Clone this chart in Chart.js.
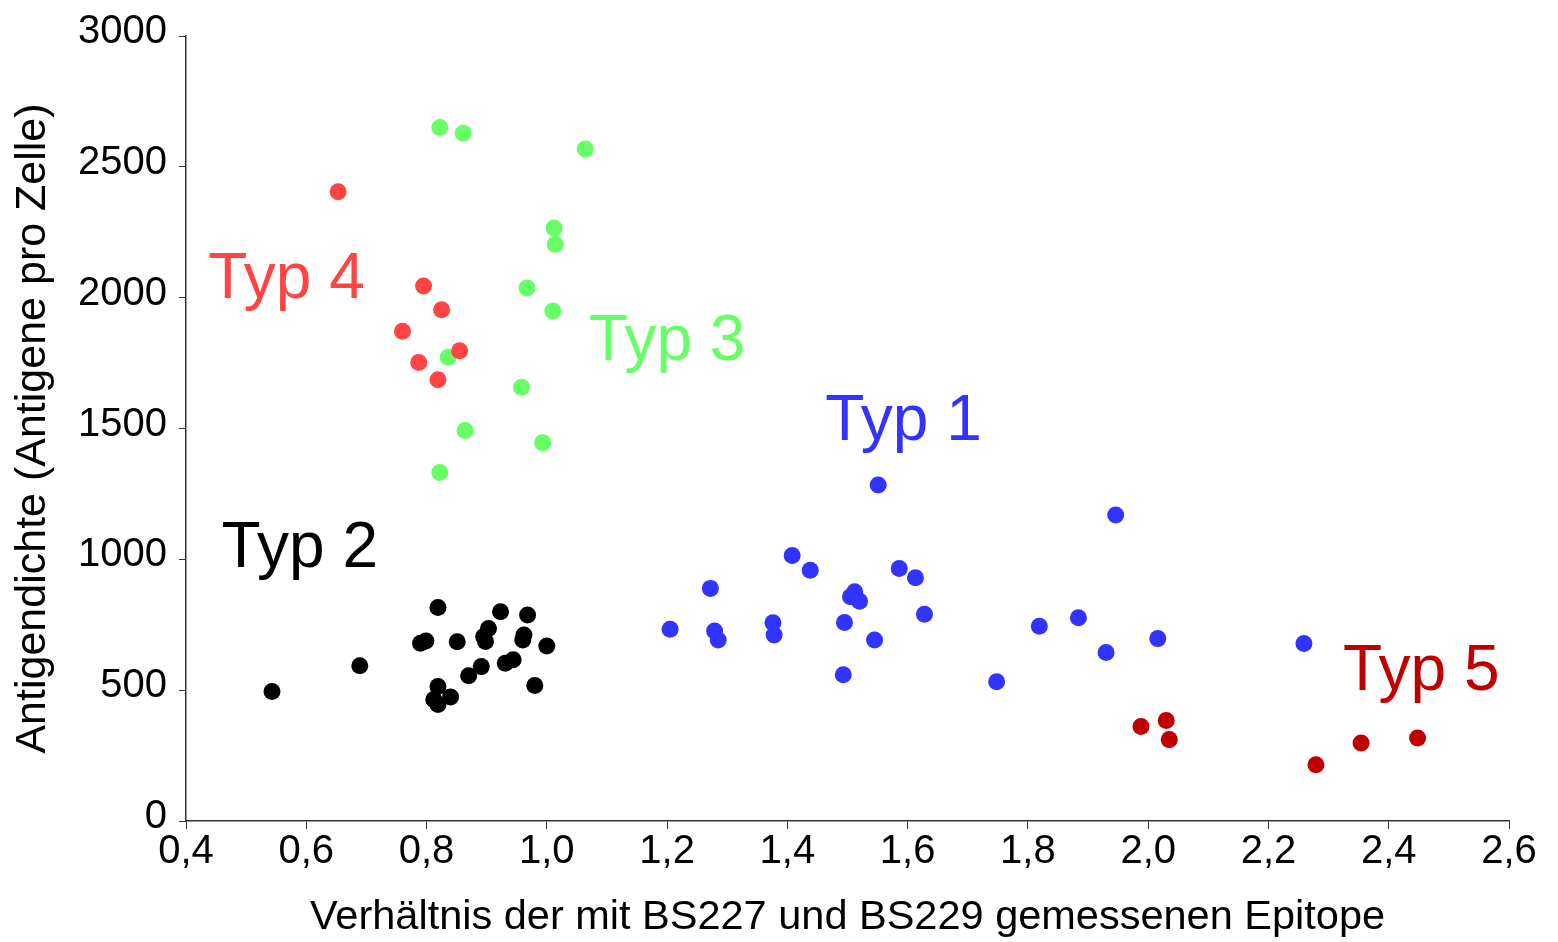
<!DOCTYPE html>
<html>
<head>
    <title>Antigendichte nach Typ</title>
    <script src="https://cdn.jsdelivr.net/npm/chart.js"></script>
    <style>
      html, body {
    margin: 0;
    padding: 0;
    background-color: #fff;
}

#typChart {
    display: block;
}
    </style>
</head>
<body>
  <canvas id="typChart" width="1558" height="942"></canvas>

  <script>
// Werte (x = Verhältnis, y = Antigene pro Zelle)
const typ1X = [1.551, 1.408, 1.438, 1.272, 1.205, 1.279, 1.285, 1.376, 1.378, 1.512, 1.505, 1.520, 1.586, 1.613, 1.628, 1.495, 1.545, 1.493, 1.946, 1.819, 1.884, 1.930, 2.016, 1.748, 2.259];
const typ1Y = [1284, 1015, 958, 889, 733, 726, 692, 758, 711, 876, 857, 840, 965, 930, 790, 759, 692, 559, 1169, 744, 777, 644, 697, 532, 678];

const typ2X = [0.543, 0.689, 0.819, 0.790, 0.799, 0.851, 0.923, 0.968, 0.903, 0.895, 0.898, 0.962, 0.960, 1.000, 0.891, 0.870, 0.931, 0.944, 0.980, 0.819, 0.840, 0.812, 0.819];
const typ2Y = [495, 593, 816, 679, 688, 685, 800, 787, 736, 705, 686, 711, 692, 669, 590, 555, 603, 616, 518, 514, 474, 464, 445];

const typ3X = [0.822, 0.861, 1.064, 1.012, 1.014, 0.967, 1.010, 0.836, 0.958, 0.864, 0.993, 0.822];
const typ3Y = [2650, 2628, 2568, 2266, 2204, 2037, 1949, 1772, 1658, 1492, 1446, 1332];

const typ4X = [0.653, 0.795, 0.825, 0.760, 0.855, 0.787, 0.819];
const typ4Y = [2405, 2045, 1954, 1872, 1797, 1752, 1686];

const typ5X = [1.988, 2.030, 2.035, 2.279, 2.354, 2.448];
const typ5Y = [361, 384, 311, 215, 298, 317];

const xTicks = [0.4, 0.6, 0.8, 1.0, 1.2, 1.4, 1.6, 1.8, 2.0, 2.2, 2.4, 2.6];
const yTicks = [0, 500, 1000, 1500, 2000, 2500, 3000];

// Beschriftungen der Gruppen (Anker in Datenkoordinaten, linke Grundlinie)
const typNames = ['Typ 4', 'Typ 3', 'Typ 2', 'Typ 1', 'Typ 5'];
const typLabelX = [0.437, 1.070, 0.459, 1.463, 2.324];
const typLabelY = [2000, 1762, 970, 1457, 502];
const typColors = ['#ff4444', '#66ff66', '#000000', '#3333ff', '#c00000'];

const FONT = "'Liberation Sans', Arial, Helvetica, sans-serif";

function toPoints(xs, ys) {
    return xs.map((x, i) => ({ x: x, y: ys[i] }));
}

// draw the "Typ n" texts at data positions
const typLabelPlugin = {
    id: 'typLabels',
    afterDatasetsDraw(chart) {
        const ctx = chart.ctx;
        const xs = chart.scales.x;
        const ys = chart.scales.y;
        ctx.save();
        ctx.font = '64px ' + FONT;
        ctx.textAlign = 'left';
        ctx.textBaseline = 'alphabetic';
        typNames.forEach((name, i) => {
            ctx.fillStyle = typColors[i];
            ctx.fillText(name, xs.getPixelForValue(typLabelX[i]), ys.getPixelForValue(typLabelY[i]));
        });
        ctx.restore();
    }
};

function createChart() {
    const ctx = document.getElementById('typChart').getContext('2d');

    // first dataset is drawn on top, so red Typ 4 sits over green Typ 3
    const series = [
        { label: 'Typ 4', data: toPoints(typ4X, typ4Y), color: '#ff4444' },
        { label: 'Typ 3', data: toPoints(typ3X, typ3Y), color: '#66ff66' },
        { label: 'Typ 2', data: toPoints(typ2X, typ2Y), color: '#000000' },
        { label: 'Typ 1', data: toPoints(typ1X, typ1Y), color: '#3333ff' },
        { label: 'Typ 5', data: toPoints(typ5X, typ5Y), color: '#c00000' }
    ];

    new Chart(ctx, {
        type: 'scatter',
        data: {
            datasets: series.map(s => ({
                label: s.label,
                data: s.data,
                backgroundColor: s.color,
                borderWidth: 0,
                pointRadius: 8.5,
                pointHoverRadius: 8.5
            }))
        },
        options: {
            responsive: false,
            animation: false,
            devicePixelRatio: 1,
            events: [],
            layout: {
                padding: { left: 0, top: 33, right: 49, bottom: 0 }
            },
            plugins: {
                legend: { display: false },
                tooltip: { enabled: false }
            },
            scales: {
                x: {
                    type: 'linear',
                    min: 0.4,
                    max: 2.6,
                    afterBuildTicks: scale => { scale.ticks = xTicks.map(v => ({ value: v })); },
                    afterFit: scale => { scale.height = 121; },
                    border: { display: true, color: '#333', width: 1.5 },
                    grid: {
                        drawOnChartArea: false,
                        drawTicks: true,
                        tickLength: 8,
                        color: '#333'
                    },
                    ticks: {
                        color: '#000',
                        font: { family: FONT, size: 40, lineHeight: 1 },
                        padding: 3,
                        maxRotation: 0,
                        autoSkip: false,
                        callback: v => v.toFixed(1).replace('.', ',')
                    },
                    title: {
                        display: true,
                        text: 'Verhältnis der mit BS227 und BS229 gemessenen Epitope',
                        color: '#000',
                        font: { family: FONT, size: 41.5 },
                        padding: { top: 0, bottom: 0 }
                    }
                },
                y: {
                    type: 'linear',
                    min: 0,
                    max: 3000,
                    afterBuildTicks: scale => { scale.ticks = yTicks.map(v => ({ value: v })); },
                    afterFit: scale => { scale.width = 186; },
                    border: { display: true, color: '#333', width: 1.5 },
                    grid: {
                        drawOnChartArea: false,
                        drawTicks: true,
                        tickLength: 7,
                        color: '#333'
                    },
                    ticks: {
                        color: '#000',
                        font: { family: FONT, size: 40 },
                        padding: 12,
                        labelOffset: -4,
                        autoSkip: false,
                        callback: v => String(v)
                    },
                    title: {
                        display: true,
                        text: 'Antigendichte (Antigene pro Zelle)',
                        color: '#000',
                        font: { family: FONT, size: 43 },
                        padding: { top: 7, bottom: 0 }
                    }
                }
            }
        },
        plugins: [typLabelPlugin]
    });
}

document.addEventListener('DOMContentLoaded', createChart);
  </script>
</body>
</html>
